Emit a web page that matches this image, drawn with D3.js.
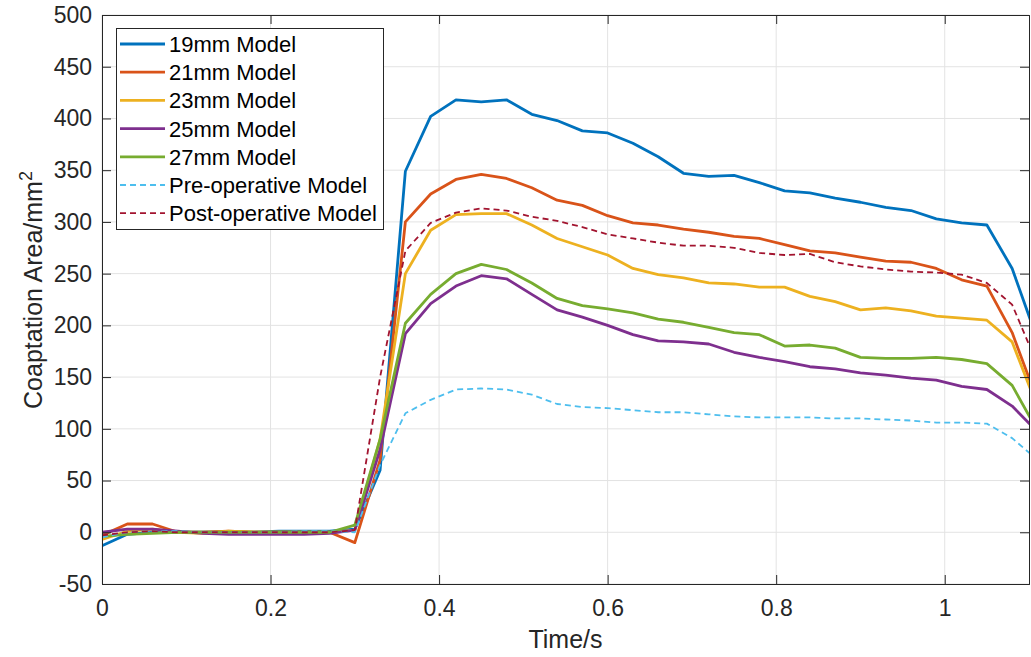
<!DOCTYPE html>
<html>
<head>
<meta charset="utf-8">
<script src="https://cdnjs.cloudflare.com/ajax/libs/d3/7.8.5/d3.min.js"></script>
<style>
body { margin: 0; background: #fff; }
svg { display: block; font-family: "Liberation Sans", Arial, Helvetica, sans-serif; }
</style>
</head>
<body>
<script>
var times = [0, 0.03, 0.06, 0.09, 0.12, 0.15, 0.18, 0.21, 0.24, 0.27, 0.30, 0.33, 0.36, 0.39, 0.42, 0.45, 0.48, 0.51, 0.54, 0.57,
    0.60, 0.63, 0.66, 0.69, 0.72, 0.75, 0.78, 0.81, 0.84, 0.87, 0.90, 0.93, 0.96, 0.99, 1.02, 1.05, 1.08, 1.11];

var model19 = [-13, -2, 0, 0, 0, 0, 0, 1, 1, 1, 3, 60, 349, 402, 418, 416, 418, 404, 398, 388,
    386, 376, 363, 347, 344, 345, 338, 330, 328, 323, 319, 314, 311, 303, 299, 297, 255, 186];
var model21 = [-3, 8, 8, 0, 0, 1, 0, 0, 0, 0, -10, 70, 300, 327, 341, 346, 342, 333, 321, 316,
    306, 299, 297, 293, 290, 286, 284, 278, 272, 270, 266, 262, 261, 255, 244, 238, 193, 127];
var model23 = [-7, 1, 3, 0, -1, 1, 0, 0, 0, 0, 2, 90, 250, 292, 307, 308, 308, 297, 284, 276,
    268, 255, 249, 246, 241, 240, 237, 237, 228, 223, 215, 217, 214, 209, 207, 205, 184, 121];
var model25 = [0, 3, 3, 1, -1, -2, -2, -2, -2, -1, 2, 80, 192, 221, 238, 248, 245, 230, 215, 208,
    200, 191, 185, 184, 182, 174, 169, 165, 160, 158, 154, 152, 149, 147, 141, 138, 122, 97];
var model27 = [-4, -2, -1, 0, 0, 0, 0, 0, 0, 0, 7, 90, 202, 230, 250, 259, 254, 241, 226, 219,
    216, 212, 206, 203, 198, 193, 191, 180, 181, 178, 169, 168, 168, 169, 167, 163, 142, 98];
var preOp = [-5, 0, 1, 1, 0, 0, 0, 0, 1, 1, 0, 65, 115, 128, 138, 139, 138, 133, 124, 121,
    120, 118, 116, 116, 114, 112, 111, 111, 111, 110, 110, 109, 108, 106, 106, 105, 91, 70];
var postOp = [-3, 0, 1, 0, 0, 0, 0, 0, 0, 0, 2, 150, 272, 299, 309, 313, 311, 305, 301, 295,
    288, 284, 280, 277, 277, 275, 270, 268, 269, 261, 257, 254, 252, 251, 249, 241, 220, 162];

var seriesNames = ["19mm Model", "21mm Model", "23mm Model", "25mm Model", "27mm Model",
    "Pre-operative Model", "Post-operative Model"];
var seriesValues = [model19, model21, model23, model25, model27, preOp, postOp];
var colors = ["#0072BD", "#D95319", "#EDB120", "#7E2F8E", "#77AC30", "#4DBEEE", "#A2142F"];
var dashed = [false, false, false, false, false, true, true];

var xTicks = [0, 0.2, 0.4, 0.6, 0.8, 1];
var yTicks = [-50, 0, 50, 100, 150, 200, 250, 300, 350, 400, 450, 500];

var width = 1031, height = 657;
var pLeft = 102, pTop = 15, pRight = 1029, pBottom = 584;

var svg = d3.select("body").append("svg").attr("width", width).attr("height", height);

var x = d3.scaleLinear().domain([0, 1.1]).range([pLeft, pRight]);
var y = d3.scaleLinear().domain([-50, 500]).range([pBottom, pTop]);

// grid
svg.append("g").selectAll("line")
    .data(xTicks)
    .enter()
    .append("line")
    .attr("x1", function (d) { return x(d); })
    .attr("x2", function (d) { return x(d); })
    .attr("y1", pTop).attr("y2", pBottom)
    .attr("stroke", "#e3e3e3").attr("stroke-width", 1);

svg.append("g").selectAll("line")
    .data(yTicks)
    .enter()
    .append("line")
    .attr("x1", pLeft).attr("x2", pRight)
    .attr("y1", function (d) { return y(d); })
    .attr("y2", function (d) { return y(d); })
    .attr("stroke", "#e3e3e3").attr("stroke-width", 1);

svg.append("defs").append("clipPath").attr("id", "plotclip")
    .append("rect").attr("x", pLeft).attr("y", pTop)
    .attr("width", pRight - pLeft).attr("height", pBottom - pTop);

var line = d3.line()
    .x(function (d) { return x(d[0]); })
    .y(function (d) { return y(d[1]); });

var plot = svg.append("g").attr("clip-path", "url(#plotclip)");

seriesValues.forEach(function (vals, i) {
    var pts = times.map(function (t, j) { return [t, vals[j]]; });
    plot.append("path")
        .attr("d", line(pts))
        .attr("fill", "none")
        .attr("stroke", colors[i])
        .attr("stroke-width", dashed[i] ? 1.8 : 2.8)
        .attr("stroke-dasharray", dashed[i] ? "6,4" : null)
        .attr("stroke-linejoin", "round");
});

// axes with inner ticks, plain hyphen for negatives like the original
var tickLen = 9;
var axisColor = "#262626";
var plain = function (d) { return String(d); };
var xAxis = d3.axisBottom(x).tickValues(xTicks).tickSize(-tickLen).tickPadding(16).tickFormat(plain);
var yAxis = d3.axisLeft(y).tickValues(yTicks).tickSize(-tickLen).tickPadding(10).tickFormat(plain);
var xAxisTop = d3.axisTop(x).tickValues(xTicks).tickSize(-tickLen).tickFormat("");
var yAxisRight = d3.axisRight(y).tickValues(yTicks).tickSize(-tickLen).tickFormat("");

function styleAxis(g) {
    g.select(".domain").attr("stroke", axisColor).attr("stroke-width", 1);
    g.selectAll(".tick line").attr("stroke", axisColor).attr("stroke-width", 1);
    g.selectAll(".tick text").attr("fill", axisColor)
        .style("font-size", "23px").style("font-family", "'Liberation Sans', Arial, sans-serif");
}

svg.append("g").attr("transform", "translate(0," + pBottom + ")").call(xAxis).call(styleAxis);
svg.append("g").attr("transform", "translate(" + pLeft + ",0)").call(yAxis).call(styleAxis);
svg.append("g").attr("transform", "translate(0," + pTop + ")").call(xAxisTop).call(styleAxis);
svg.append("g").attr("transform", "translate(" + pRight + ",0)").call(yAxisRight).call(styleAxis);

// axis labels
svg.append("text")
    .attr("x", (pLeft + pRight) / 2)
    .attr("y", 648)
    .attr("text-anchor", "middle")
    .attr("fill", axisColor)
    .style("font-size", "25px")
    .text("Time/s");

var yl = svg.append("text")
    .attr("transform", "translate(42,290) rotate(-90)")
    .attr("text-anchor", "middle")
    .attr("fill", axisColor)
    .style("font-size", "25px");
yl.append("tspan").text("Coaptation Area/mm");
yl.append("tspan").attr("dy", -10).style("font-size", "18px").text("2");

// legend
var lgX = 116, lgY = 28, lgW = 267, lgH = 201, rowH = 28.2;
var legend = svg.append("g");
legend.append("rect")
    .attr("x", lgX + 0.5).attr("y", lgY + 0.5)
    .attr("width", lgW).attr("height", lgH)
    .attr("fill", "#fff").attr("stroke", axisColor).attr("stroke-width", 1);

var rows = legend.selectAll("g")
    .data(seriesNames)
    .enter()
    .append("g")
    .attr("transform", function (d, i) { return "translate(0," + (lgY + 16 + i * rowH) + ")"; });

rows.append("line")
    .attr("x1", lgX + 4).attr("x2", lgX + 49)
    .attr("y1", 0).attr("y2", 0)
    .attr("stroke", function (d, i) { return colors[i]; })
    .attr("stroke-width", function (d, i) { return dashed[i] ? 1.8 : 2.8; })
    .attr("stroke-dasharray", function (d, i) { return dashed[i] ? "6,4" : null; });

rows.append("text")
    .attr("x", lgX + 53)
    .attr("y", 0)
    .attr("dy", "0.36em")
    .attr("fill", "#000")
    .style("font-size", "22px")
    .text(function (d) { return d; });
</script>
</body>
</html>
